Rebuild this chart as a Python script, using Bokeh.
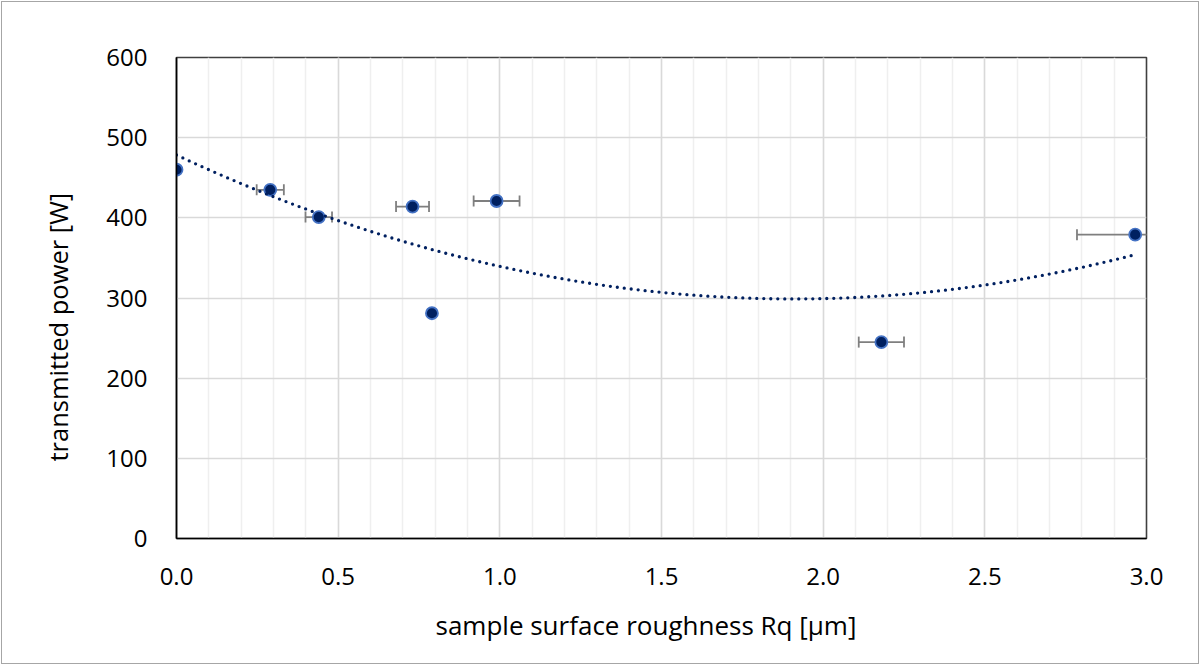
import numpy as np
from bokeh.plotting import figure
from bokeh.models import FixedTicker, Range1d, ColumnDataSource, CustomJSTickFormatter, Title
from bokeh.embed import file_html
from bokeh.resources import INLINE

# data
roughness = [0.0, 0.29, 0.44, 0.73, 0.79, 0.99, 2.18, 2.965]
roughness_err = [0.0, 0.042, 0.041, 0.051, 0.0, 0.071, 0.07, 0.18]
power = [460, 435, 401, 414, 281, 421, 245, 379]

x_major = [0.0, 0.5, 1.0, 1.5, 2.0, 2.5, 3.0]
x_minor = [round(i * 0.1, 1) for i in range(31)]
y_major = [0, 100, 200, 300, 400, 500, 600]

x_title = "sample surface roughness Rq [µm]"
y_title = "transmitted power [W]"

FONT = "Open Sans"
W, H = 1196, 661
BL, BT, BR, BB = 174, 55, 52, 125  # frame borders

p = figure(width=W, height=H, output_backend="svg", toolbar_location=None,
           x_range=Range1d(0, 3), y_range=Range1d(0, 600),
           min_border_left=BL, min_border_top=BT, min_border_right=BR, min_border_bottom=BB)
p.styles = {"margin": "2px", "outline": "1.6px solid #a6a6a6"}

p.xaxis.ticker = FixedTicker(ticks=x_major, minor_ticks=x_minor)
p.yaxis.ticker = FixedTicker(ticks=y_major)
p.xaxis.formatter = CustomJSTickFormatter(code="return tick.toFixed(1);")

for ax in (p.xaxis[0], p.yaxis[0]):
    ax.axis_line_color = "black"
    ax.axis_line_width = 1.6
    ax.major_tick_line_color = None
    ax.minor_tick_line_color = None
    ax.major_tick_out = 0
    ax.major_tick_in = 0
    ax.minor_tick_out = 0
    ax.minor_tick_in = 0
    ax.major_label_text_font = FONT
    ax.major_label_text_font_size = "24px"
    ax.major_label_text_color = "black"

p.xaxis.major_label_standoff = 29
p.yaxis.major_label_standoff = 29

p.xgrid.grid_line_color = "#d9d9d9"
p.xgrid.grid_line_width = 1.5
p.xgrid.minor_grid_line_color = "#efefef"
p.xgrid.minor_grid_line_width = 1.5
p.ygrid.grid_line_color = "#d9d9d9"
p.ygrid.grid_line_width = 1.5

p.outline_line_color = "#404040"
p.outline_line_width = 1.6

# axis titles as side titles so they can be shifted like in the reference
p.add_layout(Title(text=x_title, align="left", offset=259, standoff=34,
                   text_font=FONT, text_font_size="26px", text_font_style="normal",
                   text_color="black"), "below")
p.add_layout(Title(text=y_title, align="left", offset=77, standoff=57,
                   text_font=FONT, text_font_size="25.5px", text_font_style="normal",
                   text_color="black"), "left")

# error bars
xs = np.array(roughness)
xe = np.array(roughness_err)
ys = np.array(power)
m = xe > 0
err = ColumnDataSource(dict(x0=xs[m] - xe[m], x1=xs[m] + xe[m], y=ys[m]))
p.segment(x0="x0", y0="y", x1="x1", y1="y", source=err, line_color="#7f7f7f", line_width=1.8)
p.scatter(x="x0", y="y", source=err, marker="dash", angle=np.pi / 2, size=11,
          line_color="#7f7f7f", line_width=1.8)
p.scatter(x="x1", y="y", source=err, marker="dash", angle=np.pi / 2, size=11,
          line_color="#7f7f7f", line_width=1.8)

# data points
p.scatter(xs, ys, size=12, fill_color="#002060", line_color="#4472c4", line_width=1.8)

# polynomial (order 2) trendline fitted to the data
coef = np.polyfit(xs, ys, 2)
tx = np.linspace(xs.min(), xs.max(), 300)
ty = np.polyval(coef, tx)
p.line(tx, ty, line_color="#002060", line_width=3.3, line_dash="0 7", line_cap="round")

open("out.html", "w").write(file_html(p, INLINE))
